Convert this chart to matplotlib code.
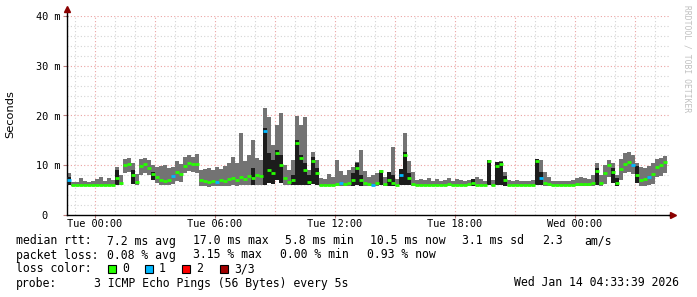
import numpy as np
import pandas as pd
import matplotlib
matplotlib.use("Agg")
import matplotlib.pyplot as plt
import matplotlib.dates as mdates
from matplotlib.patches import Rectangle

# 12 minute bins, Mon 22:36 -> Wed 04:36 (ms)
start = "2026-01-12 22:36"
step_min = 12

med = [7.0, 6.1, 6.0, 6.0, 6.1, 6.0, 6.0, 6.1, 6.1, 6.0,
       6.1, 6.0, 7.5, 6.5, 10.0, 10.3, 8.0, 6.6, 9.8, 10.2,
       9.5, 8.2, 7.6, 7.0, 6.8, 7.0, 7.8, 8.6, 8.2, 9.8,
       10.4, 10.3, 10.2, 7.0, 6.8, 6.6, 6.9, 6.7, 7.0, 6.8,
       7.2, 7.4, 7.0, 7.6, 7.2, 7.8, 7.5, 8.0, 7.8, 16.8,
       9.0, 8.5, 12.4, 10.0, 7.5, 6.7, 7.0, 14.5, 11.5, 9.0,
       6.7, 10.8, 8.5, 6.0, 6.0, 6.1, 6.0, 6.2, 6.4, 6.3,
       6.5, 7.0, 9.4, 7.0, 6.4, 6.2, 6.1, 6.5, 8.8, 6.2,
       7.0, 6.5, 6.0, 8.0, 12.0, 7.5, 6.2, 6.0, 6.0, 6.1,
       6.0, 6.0, 6.0, 6.1, 6.0, 6.2, 6.0, 6.1, 6.0, 6.0,
       6.2, 6.4, 6.1, 6.0, 6.0, 10.8, 6.1, 9.8, 10.2, 7.0,
       6.0, 6.0, 6.1, 6.0, 6.0, 6.0, 6.1, 10.8, 7.5, 6.5,
       6.2, 6.0, 6.0, 6.1, 6.0, 6.0, 6.1, 6.2, 6.3, 6.2,
       6.3, 6.5, 8.8, 6.5, 8.5, 10.0, 8.6, 6.4, 9.2, 10.2,
       10.6, 10.0, 8.0, 7.0, 7.3, 7.6, 8.2, 9.6, 10.0, 10.6]

lo = [6.0, 5.8, 5.8, 5.8, 5.8, 5.8, 5.8, 5.8, 5.8, 5.8,
      5.8, 5.8, 6.0, 6.0, 8.4, 8.6, 6.2, 6.0, 8.0, 8.5,
      8.0, 7.0, 6.5, 6.0, 6.0, 6.0, 6.2, 6.8, 6.6, 8.4,
      8.8, 8.6, 8.5, 5.8, 5.8, 5.7, 5.8, 5.8, 5.8, 5.8,
      5.9, 6.0, 5.9, 6.0, 6.0, 6.0, 6.0, 6.0, 6.0, 6.0,
      6.5, 6.2, 7.0, 6.5, 6.0, 6.0, 6.0, 6.0, 6.0, 6.0,
      6.0, 6.2, 6.0, 5.8, 5.8, 5.8, 5.8, 5.8, 5.8, 5.8,
      5.8, 5.8, 6.0, 5.9, 5.8, 5.8, 5.8, 5.8, 6.0, 5.8,
      5.9, 5.9, 5.8, 6.0, 6.0, 6.0, 5.8, 5.8, 5.8, 5.8,
      5.8, 5.8, 5.8, 5.8, 5.8, 5.8, 5.8, 5.8, 5.8, 5.8,
      5.8, 5.8, 5.8, 5.8, 5.8, 6.0, 5.8, 6.0, 6.0, 5.9,
      5.8, 5.8, 5.8, 5.8, 5.8, 5.8, 5.8, 6.0, 6.0, 5.8,
      5.8, 5.8, 5.8, 5.8, 5.8, 5.8, 5.8, 5.8, 5.8, 5.8,
      5.8, 5.8, 6.0, 5.9, 6.2, 7.6, 6.5, 5.9, 7.0, 8.4,
      8.6, 8.2, 6.4, 5.8, 5.8, 6.0, 6.2, 7.6, 7.8, 8.4]

hi = [8.4, 6.7, 6.6, 7.4, 6.8, 6.7, 6.9, 7.3, 7.7, 6.8,
      7.4, 7.0, 9.7, 8.0, 11.2, 11.4, 10.5, 8.2, 11.2, 11.4,
      11.0, 10.0, 9.6, 9.8, 10.0, 9.5, 9.6, 10.8, 10.2, 11.6,
      12.0, 11.6, 12.2, 9.0, 9.2, 9.4, 9.0, 9.6, 9.2, 9.8,
      10.4, 11.6, 10.5, 16.5, 10.8, 12.0, 15.0, 11.4, 11.0, 21.6,
      19.6, 14.0, 18.0, 20.6, 10.0, 9.0, 11.0, 19.8, 18.0, 19.6,
      9.0, 12.6, 11.0, 7.4, 7.2, 8.2, 7.6, 11.0, 8.8, 8.0,
      9.0, 9.7, 10.6, 13.0, 8.8, 7.6, 8.0, 8.4, 9.0, 7.6,
      8.6, 13.7, 7.2, 9.3, 16.5, 10.8, 8.6, 7.0, 7.2, 7.0,
      7.4, 6.8, 7.2, 6.9, 7.0, 7.5, 6.9, 7.2, 7.0, 6.8,
      7.1, 7.3, 7.7, 7.3, 6.8, 11.0, 7.0, 10.6, 10.8, 8.7,
      7.0, 6.8, 7.0, 6.8, 6.9, 6.8, 7.0, 11.2, 11.0, 8.7,
      7.6, 6.8, 6.9, 6.8, 6.8, 6.9, 7.0, 7.4, 7.6, 7.4,
      7.3, 8.0, 10.4, 8.0, 10.0, 11.0, 10.5, 8.0, 11.2, 12.4,
      12.6, 12.0, 10.5, 9.6, 9.4, 9.8, 10.4, 11.2, 11.4, 11.8]

# dark inner smoke (bin index -> top, ms)
dark_at = [0, 12, 16, 21, 46, 49, 50, 51, 52, 53, 56, 57, 58, 59, 60, 61, 62,
           71, 72, 73, 78, 80, 81, 83, 84, 85, 101, 105, 107, 108, 109, 117,
           118, 132, 136, 137, 142]
dark_top = [7.6, 9.0, 9.0, 8.6, 9.5, 17.5, 12.5, 11.0, 13.0, 12.0, 8.0, 15.0,
            12.0, 10.5, 8.0, 11.6, 9.5, 8.4, 10.4, 8.0, 8.6, 8.6, 8.0, 9.3,
            12.7, 8.5, 7.2, 11.0, 10.6, 10.7, 7.8, 11.2, 8.6, 9.4, 9.5, 7.5,
            9.8]

# bins where 1 of 3 pings was lost
loss1_at = [0, 26, 37, 49, 68, 76, 83, 118, 141, 145]

yticks = [0, 10, 20, 30, 40]
ylabels = ["0  ", "10 m", "20 m", "30 m", "40 m"]

legend_rtt = [("median rtt:", 16), ("7.2 ms avg", 107), ("17.0 ms max", 193),
              ("5.8 ms min", 285), ("10.5 ms now", 370), ("3.1 ms sd", 462),
              ("2.3", 542), ("am/s", 584)]
legend_loss = [("packet loss:", 16), ("0.08 % avg", 107), ("3.15 % max", 193),
               ("0.00 % min", 280), ("0.93 % now", 367)]
loss_names = ["0", "1", "2", "3/3"]
loss_colors = ["#26ff00", "#00b8ff", "#ff0000", "#a00000"]

W, H = 697, 297
fig = plt.figure(figsize=(W / 100, H / 100), dpi=100)
fig.patch.set_facecolor("white")

def fx(x):
    return x / W

def fy(y):
    return 1 - y / H

ax = fig.add_axes([fx(67), fy(215), (669 - 67) / W, (215 - 16) / H])

edges = pd.date_range(start, periods=len(med) + 1, freq=f"{step_min}min")
ex = mdates.date2num(edges.to_pydatetime())
width = step_min / 1440.0

lo_a = np.array(lo)
hi_a = np.array(hi)
ax.fill_between(ex, np.r_[lo_a, lo_a[-1]], np.r_[hi_a, hi_a[-1]],
                step="post", color="#737373", lw=0, zorder=2)

dk_lo = lo_a[dark_at]
ax.bar(ex[dark_at], np.array(dark_top) - dk_lo, bottom=dk_lo, width=width,
       align="edge", color="#1c1c1c", lw=0, zorder=3)

cols = [loss_colors[1] if i in loss1_at else loss_colors[0] for i in range(len(med))]
ax.hlines(med, ex[:-1], ex[1:], colors=cols, lw=2, zorder=4)

t0 = mdates.date2num(pd.Timestamp(start).to_pydatetime())
ax.set_xlim(t0, t0 + 30.1 / 24)
ax.set_ylim(0, 40)

# grid like rrdtool: grey minor, red major
for h in pd.date_range("2026-01-12 23:00", "2026-01-14 04:00", freq="1h"):
    xv = mdates.date2num(h.to_pydatetime())
    major = h.hour % 3 == 0
    ax.axvline(xv, color="#eba3a3" if major else "#d4d4d4", lw=0.8,
               ls=(0, (1, 2)), zorder=1)
for v in range(2, 41, 2):
    ax.axhline(v, color="#eba3a3" if v % 10 == 0 else "#d4d4d4", lw=0.8,
               ls=(0, (1, 2)), zorder=1)

for s in ["top", "right"]:
    ax.spines[s].set_visible(False)
for s in ["left", "bottom"]:
    ax.spines[s].set_color("black")
    ax.spines[s].set_linewidth(1)
ax.set_facecolor("white")

# arrows at the axis ends
ax.plot([0, 0], [1, 1.03], transform=ax.transAxes, color="black", lw=1, clip_on=False)
ax.plot([1, 1.005], [0, 0], transform=ax.transAxes, color="black", lw=1, clip_on=False)
ax.plot([0], [1.035], transform=ax.transAxes, marker="^", ms=4, color="#8b0000", clip_on=False)
ax.plot([1.006], [0], transform=ax.transAxes, marker=">", ms=4, color="#8b0000", clip_on=False)

mono = "DejaVu Sans Mono"
ticks6 = pd.date_range("2026-01-13 00:00", "2026-01-14 00:00", freq="6h")
ax.set_xticks(mdates.date2num(ticks6.to_pydatetime()))
ax.set_xticklabels([t.strftime("%a %H:%M") for t in ticks6], fontfamily=mono, fontsize=7.4)
ax.set_yticks(yticks)
ax.set_yticklabels(ylabels, fontfamily=mono, fontsize=7.4)
ax.tick_params(axis="x", length=2, width=0.8, color="#c08080", pad=1)
ax.tick_params(axis="y", length=3, width=0.8, color="#c08080", pad=2)
fig.text(fx(10), fy(114), "Seconds", rotation=90, ha="center", va="center", fontsize=8.2)

lf = dict(fontfamily=mono, fontsize=8.3, va="center", color="black")
for txt, x in legend_rtt:
    fig.text(fx(x), fy(241), txt, **lf)
for txt, x in legend_loss:
    fig.text(fx(x), fy(255), txt, **lf)
fig.text(fx(16), fy(269), "loss color:", **lf)
sq_x = [108, 145, 182, 220]
for name, c, x in zip(loss_names, loss_colors, sq_x):
    fig.patches.append(Rectangle((fx(x), fy(273)), 8 / W, 8 / H, transform=fig.transFigure,
                                 facecolor=c, edgecolor="black", lw=0.8))
    fig.text(fx(x + 14), fy(269), name, **lf)
fig.text(fx(16), fy(283), "probe:", **lf)
fig.text(fx(94), fy(283), "3 ICMP Echo Pings (56 Bytes) every 5s", **lf)
fig.text(fx(514), fy(283), "Wed Jan 14 04:33:39 2026", **lf)

fig.text(fx(687), fy(5), "RRDTOOL / TOBI OETIKER", rotation=-90, ha="center", va="top",
         fontfamily=mono, fontsize=5.8, color="#c0c0c0")

fig.savefig("out.png", dpi=100, facecolor="white")
